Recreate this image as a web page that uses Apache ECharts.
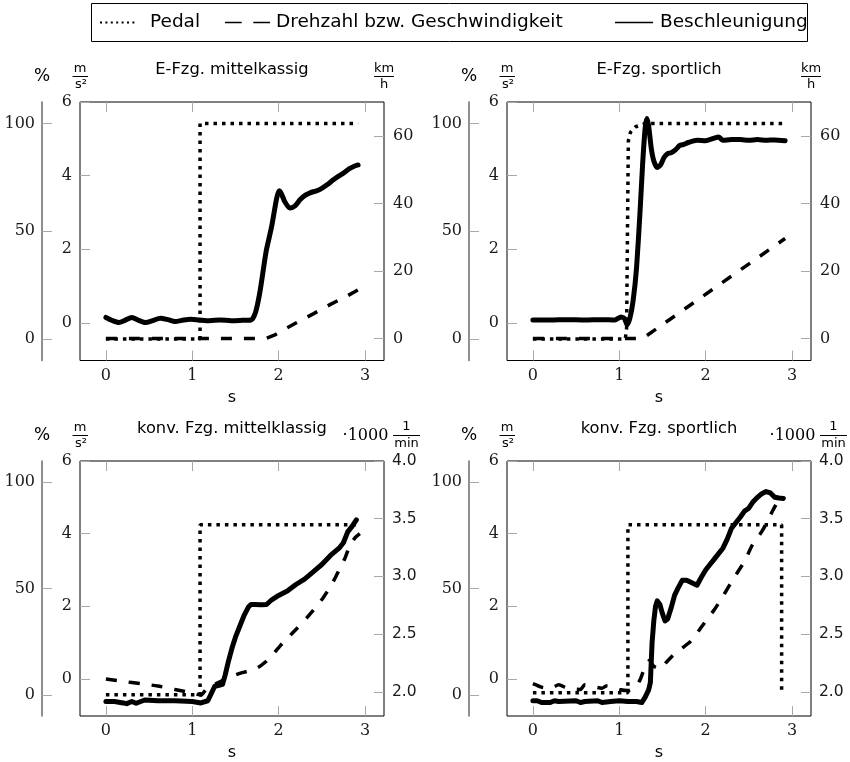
<!DOCTYPE html>
<html><head><meta charset="utf-8">
<script src="https://cdn.jsdelivr.net/npm/echarts@6/dist/echarts.min.js"></script>
<style>html,body{margin:0;padding:0;background:#fff}#c{width:850px;height:762px}</style>
</head><body><div id="c"></div>
<script>
// ---------- tick labels ----------
const xTicks = [0, 1, 2, 3];
const accTicks = [0, 2, 4, 6];
const pctTicks = [0, 50, 100];
const kmhTicks = [0, 20, 40, 60];
const rpmTicks = [2.0, 2.5, 3.0, 3.5, 4.0];
const titles = ['E-Fzg. mittelkassig', 'E-Fzg. sportlich', 'konv. Fzg. mittelklassig', 'konv. Fzg. sportlich'];
const seriesNames = ['Pedal', 'Drehzahl bzw. Geschwindigkeit', 'Beschleunigung'];

// ---------- panel 1: E-Fzg. mittelkassig ----------
const p1PedalT = [0, 1.09, 1.09, 2.92];
const p1Pedal = [0, 0, 100, 100];
const p1SpeedT = [0, 1.85, 1.95, 2.05, 2.2, 2.4, 2.6, 2.8, 2.92];
const p1Speed = [0, 0, 1, 2.5, 4.6, 7.3, 10.1, 12.7, 14.4];
const p1AccT = [0, 0.07, 0.15, 0.22, 0.3, 0.38, 0.46, 0.54, 0.63, 0.72, 0.8, 0.9, 0.98, 1.08, 1.2, 1.32, 1.45, 1.58, 1.68, 1.73, 1.78, 1.84, 1.86, 1.92, 1.975, 2.005, 2.03, 2.07, 2.13, 2.19, 2.25, 2.31, 2.37, 2.43, 2.49, 2.56, 2.63, 2.69, 2.75, 2.82, 2.87, 2.92];
const p1Acc = [0.15, 0.07, 0.01, 0.07, 0.15, 0.07, 0.01, 0.06, 0.13, 0.09, 0.04, 0.08, 0.1, 0.08, 0.06, 0.08, 0.06, 0.07, 0.08, 0.27, 0.8, 1.72, 2.0, 2.63, 3.36, 3.59, 3.52, 3.3, 3.12, 3.18, 3.35, 3.47, 3.54, 3.58, 3.64, 3.75, 3.88, 3.98, 4.07, 4.19, 4.25, 4.29];

// ---------- panel 2: E-Fzg. sportlich ----------
const p2PedalT = [0, 1.07, 1.085, 1.095, 1.105, 1.13, 1.19, 1.3, 2.92];
const p2Pedal = [0, 0, 5, 50, 92, 96, 98.5, 100, 100];
const p2SpeedT = [0, 1.27, 2.92];
const p2Speed = [0, 0, 29.6];
const p2AccT = [0, 0.2, 0.4, 0.6, 0.8, 0.95, 1.02, 1.06, 1.09, 1.12, 1.16, 1.2, 1.24, 1.27, 1.3, 1.32, 1.34, 1.37, 1.4, 1.44, 1.48, 1.52, 1.56, 1.6, 1.65, 1.7, 1.75, 1.8, 1.9, 2.0, 2.1, 2.15, 2.2, 2.3, 2.4, 2.5, 2.6, 2.7, 2.8, 2.92];
const p2Acc = [0.08, 0.08, 0.09, 0.08, 0.09, 0.08, 0.16, 0.12, -0.05, 0.1, 0.6, 1.5, 3.0, 4.3, 5.3, 5.55, 5.35, 4.75, 4.4, 4.22, 4.3, 4.5, 4.6, 4.62, 4.7, 4.82, 4.85, 4.9, 4.96, 4.95, 5.02, 5.05, 4.96, 4.98, 4.98, 4.96, 4.98, 4.96, 4.97, 4.95];

// ---------- panel 3: konv. Fzg. mittelklassig ----------
const p3PedalT = [0, 1.09, 1.09, 2.92];
const p3Pedal = [0, 0, 80, 80];
const p3RpmT = [0, 0.2, 0.4, 0.6, 0.8, 1.0, 1.1, 1.17, 1.3, 1.45, 1.55, 1.65, 1.76, 1.85, 1.94, 2.02, 2.11, 2.2, 2.28, 2.36, 2.44, 2.52, 2.59, 2.65, 2.71, 2.77, 2.82, 2.88, 2.94];
const p3Rpm = [2.11, 2.09, 2.07, 2.05, 2.02, 1.99, 1.97, 2.03, 2.08, 2.13, 2.16, 2.18, 2.21, 2.26, 2.33, 2.4, 2.47, 2.54, 2.6, 2.67, 2.74, 2.82, 2.9, 2.98, 3.07, 3.16, 3.26, 3.33, 3.37];
const p3AccT = [0, 0.1, 0.2, 0.24, 0.3, 0.35, 0.45, 0.6, 0.8, 1.0, 1.1, 1.18, 1.22, 1.26, 1.3, 1.35, 1.38, 1.42, 1.46, 1.5, 1.55, 1.6, 1.65, 1.68, 1.72, 1.8, 1.86, 1.92, 2.0, 2.1, 2.2, 2.3, 2.4, 2.5, 2.6, 2.7, 2.75, 2.8, 2.85, 2.9];
const p3Acc = [-0.62, -0.62, -0.66, -0.68, -0.62, -0.67, -0.58, -0.6, -0.6, -0.62, -0.66, -0.6, -0.4, -0.2, -0.18, -0.15, 0.1, 0.5, 0.85, 1.15, 1.45, 1.75, 1.98, 2.05, 2.05, 2.04, 2.05, 2.18, 2.3, 2.42, 2.6, 2.75, 2.95, 3.15, 3.4, 3.6, 3.75, 4.05, 4.2, 4.38];

// ---------- panel 4: konv. Fzg. sportlich ----------
const p4PedalT = [0, 1.1, 1.1, 2.88, 2.88];
const p4Pedal = [1, 1, 80, 80, 0];
const p4RpmT = [0, 0.1, 0.2, 0.3, 0.4, 0.55, 0.6, 0.8, 0.85, 1.0, 1.1, 1.2, 1.25, 1.3, 1.35, 1.4, 1.48, 1.55, 1.64, 1.73, 1.83, 1.96, 2.1, 2.21, 2.33, 2.45, 2.54, 2.66, 2.77, 2.82];
const p4Rpm = [2.07, 2.04, 2.03, 2.06, 2.03, 2.02, 2.06, 2.03, 2.05, 2.02, 2.01, 2.05, 2.12, 2.22, 2.27, 2.22, 2.2, 2.26, 2.33, 2.38, 2.44, 2.57, 2.71, 2.84, 2.99, 3.13, 3.27, 3.4, 3.56, 3.63];
const p4AccT = [0, 0.05, 0.1, 0.2, 0.25, 0.3, 0.5, 0.55, 0.6, 0.75, 0.8, 0.9, 1.0, 1.1, 1.2, 1.26, 1.3, 1.34, 1.36, 1.38, 1.4, 1.42, 1.44, 1.47, 1.5, 1.53, 1.56, 1.6, 1.64, 1.68, 1.73, 1.78, 1.84, 1.9, 1.95, 2.0, 2.05, 2.1, 2.15, 2.2, 2.25, 2.3, 2.35, 2.4, 2.45, 2.5, 2.55, 2.6, 2.65, 2.7, 2.75, 2.8, 2.85, 2.9];
const p4Acc = [-0.6, -0.6, -0.65, -0.65, -0.6, -0.62, -0.6, -0.65, -0.62, -0.6, -0.65, -0.62, -0.6, -0.62, -0.62, -0.65, -0.5, -0.3, -0.1, 1.0, 1.6, 2.0, 2.15, 2.05, 1.8, 1.6, 1.65, 1.95, 2.3, 2.5, 2.72, 2.72, 2.65, 2.58, 2.8, 3.0, 3.15, 3.3, 3.45, 3.6, 3.85, 4.15, 4.3, 4.45, 4.62, 4.7, 4.88, 5.0, 5.1, 5.16, 5.12, 5.0, 4.98, 4.97];

// ---------- build ----------
const zip = (t, v) => t.map((x, i) => [x, v[i]]);
const SERIF = 'DejaVu Serif', SANS = 'DejaVu Sans';
const TICK = '#a8a8a8';

const panels = [
  {left: 80, top: 102, right: 'kmh', pedal: zip(p1PedalT, p1Pedal), second: zip(p1SpeedT, p1Speed), acc: zip(p1AccT, p1Acc), smooth: 0.25},
  {left: 507, top: 102, right: 'kmh', pedal: zip(p2PedalT, p2Pedal), second: zip(p2SpeedT, p2Speed), acc: zip(p2AccT, p2Acc), smooth: 0.2},
  {left: 80, top: 461, right: 'rpm', pedal: zip(p3PedalT, p3Pedal), second: zip(p3RpmT, p3Rpm), acc: zip(p3AccT, p3Acc), smooth: false},
  {left: 507, top: 461, right: 'rpm', pedal: zip(p4PedalT, p4Pedal), second: zip(p4RpmT, p4Rpm), acc: zip(p4AccT, p4Acc), smooth: false}
];
const W = 304, H = 258.5;

const grid = [], xAxis = [], yAxis = [], series = [], graphic = [];
panels.forEach((p, g) => {
  grid.push({left: p.left, top: p.top, width: W, height: H, show: true, borderColor: '#000', borderWidth: 1, backgroundColor: 'transparent', containLabel: false});
  const tickStyle = {show: true, inside: true, length: 10, lineStyle: {color: TICK, width: 1}};
  const noLine = {show: false, onZero: false};
  xAxis.push({type: 'value', gridIndex: g, position: 'bottom', min: -0.3, max: 3.22,
    axisLine: noLine, splitLine: {show: false},
    axisTick: Object.assign({customValues: xTicks}, tickStyle),
    axisLabel: {customValues: xTicks, fontFamily: SERIF, fontSize: 16, color: '#1a1a1a', margin: 7},
    name: 's', nameLocation: 'middle', nameGap: 29, nameTextStyle: {fontFamily: SANS, fontSize: 16, color: '#000'}});
  xAxis.push({type: 'value', gridIndex: g, position: 'top', min: -0.3, max: 3.22,
    axisLine: noLine, splitLine: {show: false},
    axisTick: Object.assign({customValues: xTicks}, tickStyle),
    axisLabel: {show: false}});
  // accel axis (box left)
  yAxis.push({type: 'value', gridIndex: g, position: 'left', min: -1.02, max: 6,
    axisLine: noLine, splitLine: {show: false},
    axisTick: Object.assign({customValues: accTicks}, tickStyle),
    axisLabel: {customValues: accTicks, fontFamily: SERIF, fontSize: 16, color: '#1a1a1a', margin: 8}});
  // percent axis (offset)
  yAxis.push({type: 'value', gridIndex: g, position: 'left', offset: 38, min: -10, max: 110,
    axisLine: {show: true, onZero: false, lineStyle: {color: '#6a6a6a', width: 1.5}}, splitLine: {show: false},
    axisTick: Object.assign({customValues: pctTicks}, tickStyle),
    axisLabel: {customValues: pctTicks, fontFamily: SERIF, fontSize: 16, color: '#1a1a1a', margin: 7}});
  // right axis
  if (p.right === 'kmh') {
    yAxis.push({type: 'value', gridIndex: g, position: 'right', min: -6.5, max: 70,
      axisLine: noLine, splitLine: {show: false},
      axisTick: Object.assign({customValues: kmhTicks}, tickStyle),
      axisLabel: {customValues: kmhTicks, fontFamily: SERIF, fontSize: 16, color: '#1a1a1a', margin: 9}});
  } else {
    yAxis.push({type: 'value', gridIndex: g, position: 'right', min: 1.79, max: 4.0,
      axisLine: noLine, splitLine: {show: false},
      axisTick: Object.assign({customValues: rpmTicks}, tickStyle),
      axisLabel: {customValues: rpmTicks, fontFamily: SANS, fontSize: 15.5, color: '#1a1a1a', margin: 8,
        formatter: v => v.toFixed(1)}});
  }
  const xb = 2 * g, ya = 3 * g, yp = 3 * g + 1, yr = 3 * g + 2;
  series.push({type: 'line', name: seriesNames[0], xAxisIndex: xb, yAxisIndex: yp, data: p.pedal,
    showSymbol: false, animation: false, z: 3,
    lineStyle: {color: '#000', width: 3.5, type: [3.5, 5], cap: 'butt'}});
  series.push({type: 'line', name: seriesNames[1], xAxisIndex: xb, yAxisIndex: yr, data: p.second,
    showSymbol: false, animation: false, z: 3, smooth: p.right === 'kmh' ? 0 : 0.2,
    lineStyle: {color: '#000', width: 3.5, type: [11, 12], cap: 'butt'}});
  series.push({type: 'line', name: seriesNames[2], xAxisIndex: xb, yAxisIndex: ya, data: p.acc,
    showSymbol: false, animation: false, z: 4, smooth: p.smooth,
    lineStyle: {color: '#000', width: 5, cap: 'round', join: 'round'}});

  // titles and unit labels
  const dx = p.left - 80, dy = p.top - 102;
  const T = (text, x, y, font, align) => graphic.push({type: 'text', silent: true,
    style: {text: text, x: x, y: y, font: font, fill: '#000', textAlign: align || 'center', textVerticalAlign: 'middle', align: align || 'center', verticalAlign: 'middle'}});
  const L = (x1, y1, x2, y2) => graphic.push({type: 'line', silent: true,
    shape: {x1: x1, y1: y1, x2: x2, y2: y2}, style: {stroke: '#000', lineWidth: 1}});
  T(titles[g], 232 + dx, 70 + dy, '16.3px "DejaVu Sans"');
  T('%', 42 + dx, 77 + dy, '17px "DejaVu Sans"');
  T('m', 80 + dx, 69 + dy, '13px "DejaVu Sans"');
  L(72.5 + dx, 76.5 + dy, 88 + dx, 76.5 + dy);
  T('s²', 81 + dx, 85 + dy, '13px "DejaVu Sans"');
  if (p.right === 'kmh') {
    T('km', 384 + dx, 69 + dy, '13px "DejaVu Sans"');
    L(374 + dx, 76.5 + dy, 394 + dx, 76.5 + dy);
    T('h', 384 + dx, 85 + dy, '13px "DejaVu Sans"');
  } else {
    T('·1000', 365.5 + dx, 77 + dy, '16px "DejaVu Serif"');
    T('1', 406.5 + dx, 68 + dy, '13px "DejaVu Sans"');
    L(393 + dx, 76.5 + dy, 420 + dx, 76.5 + dy);
    T('min', 406.5 + dx, 84.5 + dy, '13px "DejaVu Sans"');
  }
});

// legend (drawn)
graphic.push({type: 'rect', silent: true, shape: {x: 91.5, y: 3.5, width: 716, height: 38}, style: {fill: '#fff', stroke: '#000', lineWidth: 1}});
graphic.push({type: 'line', silent: true, shape: {x1: 100, y1: 22.5, x2: 136, y2: 22.5}, style: {stroke: '#000', lineWidth: 2, lineDash: [2, 3.4]}});
graphic.push({type: 'line', silent: true, shape: {x1: 225, y1: 22.5, x2: 270, y2: 22.5}, style: {stroke: '#000', lineWidth: 1.5, lineDash: [16.7, 11.6]}});
graphic.push({type: 'line', silent: true, shape: {x1: 615, y1: 22.5, x2: 653, y2: 22.5}, style: {stroke: '#000', lineWidth: 1.5}});
[[seriesNames[0], 150], [seriesNames[1], 276], [seriesNames[2], 660]].forEach(([t, x]) => {
  graphic.push({type: 'text', silent: true, style: {text: t, x: x, y: 22, font: '18.5px "DejaVu Sans"', fill: '#000', textAlign: 'left', align: 'left', textVerticalAlign: 'middle', verticalAlign: 'middle'}});
});

const chart = echarts.init(document.getElementById('c'), null, {renderer: 'canvas'});
chart.setOption({animation: false, backgroundColor: '#fff', grid, xAxis, yAxis, series, graphic});
</script></body></html>
